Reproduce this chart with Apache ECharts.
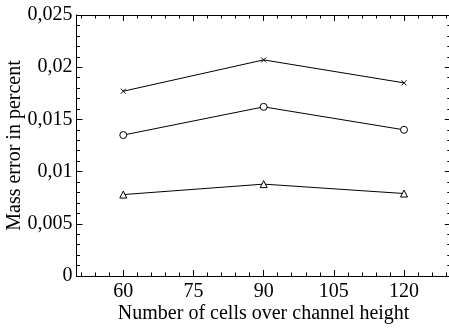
<!DOCTYPE html>
<html>
<head>
<meta charset="utf-8">
<script src="https://cdn.jsdelivr.net/npm/echarts@6/dist/echarts.min.js"></script>
<style>html,body{margin:0;padding:0;background:#fff;}#c{width:449px;height:328px;}</style>
</head>
<body>
<div id="c"></div>
<script>
const categories = [60, 90, 120];
const crossSeries = [0.0177, 0.0207, 0.0185];
const circleSeries = [0.0135, 0.0162, 0.0140];
const triangleSeries = [0.0078, 0.0088, 0.0079];
const xMajorTicks = [60, 75, 90, 105, 120];
const xMinorTicks = [51,54,57,63,66,69,72,78,81,84,87,93,96,99,102,108,111,114,117,123,126,129];
const xTitle = 'Number of cells over channel height';
const yTitle = 'Mass error in percent';

const font = 'Liberation Serif';
const black = '#000';
const fs = 20;

function pairs(vals){ return categories.map((c,i)=>[c, vals[i]]); }

function xAx(pos, ticks, len, showLabel, extra){
  return Object.assign({
    type:'value', min:50, max:130, position:pos, gridIndex:0,
    axisLine:{show:true, onZero:false, lineStyle:{color:black, width:1}},
    axisTick:{show:true, inside:true, length:len, customValues:ticks, lineStyle:{color:black, width:1}},
    axisLabel:{show:showLabel, customValues:ticks, color:black, fontFamily:font, fontSize:fs, margin:6},
    splitLine:{show:false}
  }, extra||{});
}
function yAx(pos, showLabel, extra){
  return Object.assign({
    type:'value', min:0, max:0.025, interval:0.005, position:pos, gridIndex:0,
    axisLine:{show:true, onZero:false, lineStyle:{color:black, width:1}},
    axisTick:{show:true, inside:true, length:6, lineStyle:{color:black, width:1}},
    minorTick:{show:true, splitNumber:5, length:3.5, lineStyle:{color:black, width:1}},
    axisLabel:{show:showLabel, color:black, fontFamily:font, fontSize:fs, margin:4,
      formatter:function(v){ return Number(v.toFixed(3)).toString().replace('.', ','); }},
    splitLine:{show:false}, minorSplitLine:{show:false}
  }, extra||{});
}

const chart = echarts.init(document.getElementById('c'), null, {renderer:'canvas'});
chart.setOption({
  backgroundColor:'#fff',
  animation:false,
  grid:{left:76.5, top:15, width:374.3, height:261, containLabel:false, outerBoundsMode:'none'},
  xAxis:[
    xAx('bottom', xMajorTicks, 6, true, {name:xTitle, nameLocation:'middle', nameGap:28, nameMoveOverlap:false,
      nameTextStyle:{color:black, fontFamily:font, fontSize:fs}}),
    xAx('bottom', xMinorTicks, 3.5, false),
    xAx('top', xMajorTicks, 6, false),
    xAx('top', xMinorTicks, 3.5, false)
  ],
  yAxis:[
    yAx('left', true, {name:yTitle, nameLocation:'middle', nameGap:52, nameMoveOverlap:false,
      nameTextStyle:{color:black, fontFamily:font, fontSize:fs}}),
    yAx('right', false)
  ],
  series:[
    {type:'line', xAxisIndex:0, yAxisIndex:0, data:pairs(crossSeries),
      symbol:'path://M0,0L10,10M10,0L0,10', symbolSize:5,
      lineStyle:{color:black, width:1}, itemStyle:{color:black, borderColor:black, borderWidth:1}},
    {type:'line', xAxisIndex:0, yAxisIndex:0, data:pairs(circleSeries),
      symbol:'circle', symbolSize:7,
      lineStyle:{color:black, width:1}, itemStyle:{color:'#fff', borderColor:black, borderWidth:1}},
    {type:'line', xAxisIndex:0, yAxisIndex:0, data:pairs(triangleSeries),
      symbol:'triangle', symbolSize:7,
      lineStyle:{color:black, width:1}, itemStyle:{color:'#fff', borderColor:black, borderWidth:1}}
  ]
});
</script>
</body>
</html>
